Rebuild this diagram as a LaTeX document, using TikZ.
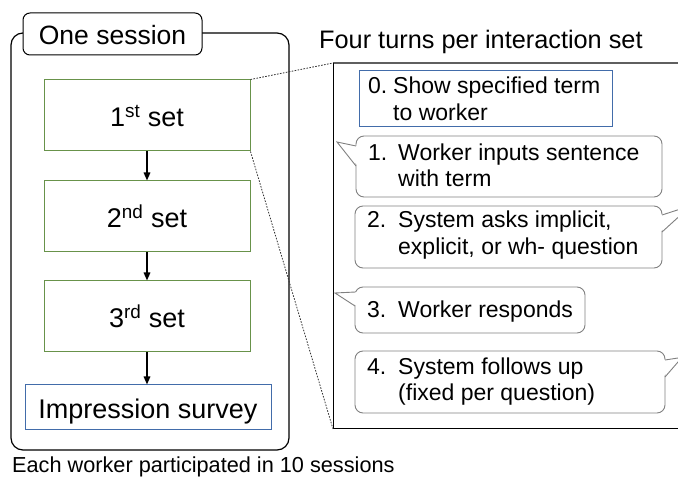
\documentclass[tikz,border=0pt]{standalone}
\usepackage{fontspec}
\setmainfont{Liberation Sans}
\usetikzlibrary{arrows.meta}
\definecolor{setgreen}{RGB}{104,146,74}
\definecolor{noteblue}{RGB}{66,108,170}
\definecolor{bubblegray}{RGB}{128,128,128}
\definecolor{edgegray}{RGB}{95,95,95}
\begin{document}
\begin{tikzpicture}[x=1pt,y=-1pt,
  bigtext/.style={font=\fontsize{27}{32}\selectfont},
  setbox/.style={draw=setgreen, line width=1pt, minimum width=206pt, minimum height=71pt,
    inner sep=0pt, text height=22pt, text depth=0pt, bigtext},
  flow/.style={-{Triangle[length=8pt,width=6.5pt]}, line width=1.5pt},
  dotline/.style={draw=black!80, line width=0.8pt, dash pattern=on 1.6pt off 1.4pt},
  bubble/.style={draw=bubblegray, line width=0.9pt, rounded corners=8pt},
  bubbletail/.style={draw=bubblegray, line width=0.9pt, line join=miter},
  steptext/.style={anchor=base west, inner sep=0pt, font=\fontsize{23}{27}\selectfont},
]
\clip (0,0) rectangle (678,478);

% session frame and its label
\draw[line width=1.2pt, rounded corners=12pt] (11,33) rectangle (289,450);
\node[draw, line width=1pt, rounded corners=7pt, fill=white, minimum width=179pt,
  minimum height=42pt, inner sep=0pt, text height=21pt, text depth=0pt,
  font=\fontsize{26.5}{31}\selectfont] (label) at (112.5,34) {One session};

% the three sets and the survey
\node[setbox] (set1) at (147,115.5) {1\textsuperscript{st} set};
\node[setbox] (set2) at (147,216.5) {2\textsuperscript{nd} set};
\node[setbox] (set3) at (147,316.5) {3\textsuperscript{rd} set};
\node[draw=noteblue, line width=1pt, minimum width=246pt, minimum height=45pt,
  inner sep=0pt, text height=22pt, text depth=0pt, bigtext] (survey) at (148,407.5) {Impression survey};

\draw[flow] (set1.south) -- (set2.north);
\draw[flow] (set2.south) -- (set3.north);
\draw[flow] (set3.south) -- (set3.south |- survey.north);

% detail panel for one set
\coordinate (rtl) at (333,63);
\coordinate (rbl) at (333,429);
\coordinate (rtr) at (678,63);
\coordinate (rbr) at (678,429);
\draw[edgegray, line width=1.8pt] (rtl) -- (rtr);
\draw[line width=1pt] (rtl) -- (rbl) -- (rbr);

\draw[dotline] (set1.north east) -- (rtl);
\draw[dotline] (set1.south east) -- (rbl);

\node[anchor=base west, inner sep=0pt, font=\fontsize{25.3}{30}\selectfont] (title) at (319,48.3)
  {Four turns per interaction set};

% turn 0
\node[draw=noteblue, line width=1pt, minimum width=253pt, minimum height=56pt, inner sep=0pt] (turn0) at (485.5,99) {};
\node[steptext] (n0) at (368,94) {0.};
\node[steptext] (l0a) at (393,94) {Show specified term};
\node[steptext] (l0b) at (393,121) {to worker};

% turn 1 (worker, tail on the left)
\draw[bubble] (356,136) rectangle (662,197);
\fill[white] (358,146) -- (337,142) -- (358,166) -- cycle;
\draw[bubbletail] (356,146) -- (337,142) -- (356,166);
\node[steptext] (n1) at (368,161) {1.};
\node[steptext] (l1a) at (398,161) {Worker inputs sentence};
\node[steptext] (l1b) at (398,187) {with term};

% turn 2 (system, tail on the right)
\draw[bubble] (355,206) rectangle (662,268);
\fill[white] (660,215) -- (691,205.6) -- (660,232) -- cycle;
\draw[bubbletail] (662,215) -- (691,205.6) -- (662,232);
\node[steptext] (n2) at (367,228) {2.};
\node[steptext] (l2a) at (398,228) {System asks implicit,};
\node[steptext] (l2b) at (398,255) {explicit, or wh- question};

% turn 3 (worker)
\draw[bubble] (355,287) rectangle (585,333);
\fill[white] (357,292) -- (335,293) -- (357,306) -- cycle;
\draw[bubbletail] (355.6,292) -- (335,293) -- (355,306);
\node[steptext] (n3) at (367,318) {3.};
\node[steptext] (l3a) at (398,318) {Worker responds};

% turn 4 (system)
\draw[bubble] (355,351) rectangle (665,413);
\fill[white] (663,360) -- (682,357.4) -- (663,377) -- cycle;
\draw[bubbletail] (665,360) -- (682,357.4) -- (665,377);
\node[steptext] (n4) at (367,375) {4.};
\node[steptext] (l4a) at (398,375) {System follows up};
\node[steptext] (l4b) at (398,401) {(fixed per question)};

\node[anchor=base west, inner sep=0pt, font=\fontsize{21.7}{26}\selectfont] (note) at (12,472.5)
  {Each worker participated in 10 sessions};
\end{tikzpicture}
\end{document}
